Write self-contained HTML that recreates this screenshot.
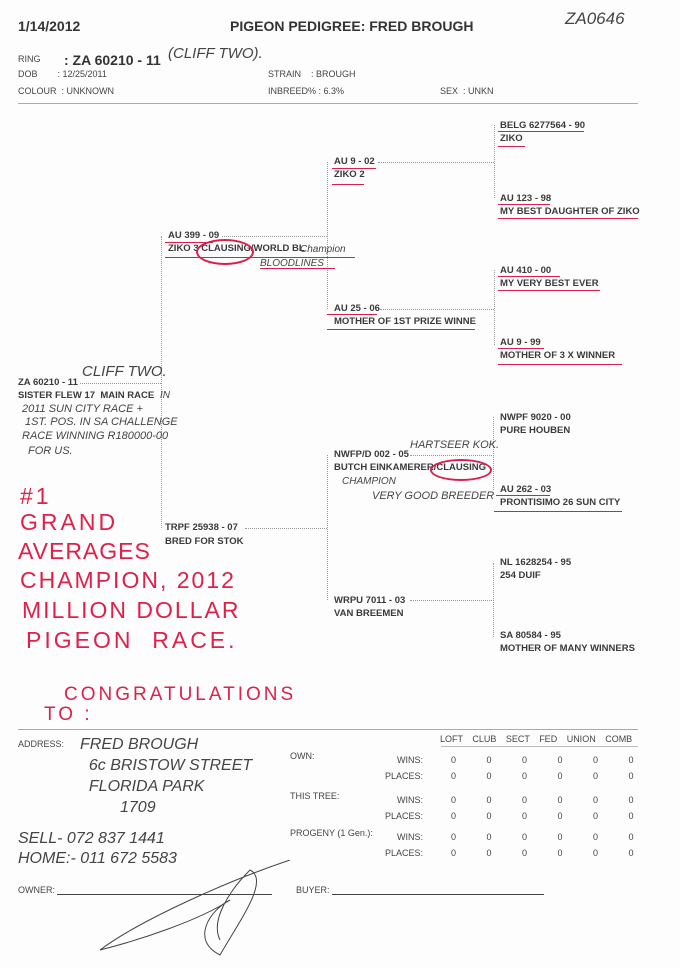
<!DOCTYPE html>
<html><head><meta charset="utf-8">
<style>
body{margin:0;background:#fff;}
#p{position:relative;width:680px;height:968px;overflow:hidden;background:#fdfdfd;font-family:"Liberation Sans",Arial,sans-serif;color:#333;}
.t{position:absolute;white-space:nowrap;line-height:1;}
.b{font-weight:bold;font-size:9.5px;color:#3a3a3a;}
.s{font-size:9px;color:#444;}
.h{font-family:"Liberation Sans",sans-serif;font-style:italic;color:#444;font-weight:normal;}
.r{color:#e0204a;font-size:23px;letter-spacing:3px;font-family:"Liberation Sans",sans-serif;}
.hl{position:absolute;height:0;border-top:1px dotted #999;}
.vl{position:absolute;width:0;border-left:1px dotted #999;}
.u{position:absolute;height:0;border-top:1.5px solid #d8204a;}
</style></head><body><div id="p">
<div class="t" style="left:18px;top:19px;font-size:14px;font-weight:bold;color:#333">1/14/2012</div>
<div class="t" style="left:230px;top:19px;font-size:14px;font-weight:bold;color:#333">PIGEON PEDIGREE: FRED BROUGH</div>
<div class="t h" style="left:565px;top:10px;font-size:17px">ZA0646</div>
<div class="t s" style="left:18px;top:55px">RING</div>
<div class="t" style="left:64px;top:53px;font-size:14px;font-weight:bold;color:#333">: ZA 60210 - 11</div>
<div class="t h" style="left:168px;top:46px;font-size:15px">(CLIFF TWO).</div>
<div class="t s" style="left:18px;top:70px">DOB &nbsp;&nbsp;&nbsp;&nbsp;&nbsp;&nbsp;&nbsp;: 12/25/2011</div>
<div class="t s" style="left:268px;top:70px">STRAIN &nbsp;&nbsp;&nbsp;: BROUGH</div>
<div class="t s" style="left:18px;top:87px">COLOUR &nbsp;: UNKNOWN</div>
<div class="t s" style="left:268px;top:87px">INBREED% : 6.3%</div>
<div class="t s" style="left:440px;top:87px">SEX &nbsp;: UNKN</div>
<div class="hl" style="left:18px;top:103px;width:620px;border-top:1px solid #aaa"></div>

<div class="vl" style="left:161px;top:236px;height:292px"></div>
<div class="hl" style="left:222px;top:236px;width:105px"></div>
<div class="hl" style="left:80px;top:383px;width:81px"></div>
<div class="hl" style="left:245px;top:528px;width:82px"></div>
<div class="vl" style="left:327px;top:162px;height:147px"></div>
<div class="vl" style="left:327px;top:455px;height:145px"></div>
<div class="hl" style="left:378px;top:162px;width:116px"></div>
<div class="hl" style="left:380px;top:309px;width:114px"></div>
<div class="hl" style="left:410px;top:455px;width:84px"></div>
<div class="hl" style="left:410px;top:600px;width:84px"></div>
<div class="vl" style="left:494px;top:125px;height:73px"></div>
<div class="vl" style="left:494px;top:270px;height:75px"></div>
<div class="vl" style="left:493px;top:417px;height:73px"></div>
<div class="vl" style="left:493px;top:563px;height:74px"></div>

<div class="t b" style="left:18px;top:378px">ZA 60210 - 11</div>
<div class="t b" style="left:18px;top:391px">SISTER FLEW 17 &nbsp;MAIN RACE</div>
<div class="t b" style="left:168px;top:231px">AU 399 - 09</div>
<div class="t b" style="left:168px;top:244px">ZIKO 3 CLAUSING/WORLD BL</div>
<div class="t b" style="left:165px;top:523px">TRPF 25938 - 07</div>
<div class="t b" style="left:165px;top:537px">BRED FOR STOK</div>
<div class="t b" style="left:334px;top:157px">AU 9 - 02</div>
<div class="t b" style="left:334px;top:170px">ZIKO 2</div>
<div class="t b" style="left:334px;top:304px">AU 25 - 06</div>
<div class="t b" style="left:334px;top:317px">MOTHER OF 1ST PRIZE WINNE</div>
<div class="t b" style="left:334px;top:450px">NWFP/D 002 - 05</div>
<div class="t b" style="left:334px;top:463px">BUTCH EINKAMERER/CLAUSING</div>
<div class="t b" style="left:334px;top:596px">WRPU 7011 - 03</div>
<div class="t b" style="left:334px;top:609px">VAN BREEMEN</div>
<div class="t b" style="left:500px;top:121px">BELG 6277564 - 90</div>
<div class="t b" style="left:500px;top:134px">ZIKO</div>
<div class="t b" style="left:500px;top:194px">AU 123 - 98</div>
<div class="t b" style="left:500px;top:207px">MY BEST DAUGHTER OF ZIKO</div>
<div class="t b" style="left:500px;top:266px">AU 410 - 00</div>
<div class="t b" style="left:500px;top:279px">MY VERY BEST EVER</div>
<div class="t b" style="left:500px;top:338px">AU 9 - 99</div>
<div class="t b" style="left:500px;top:351px">MOTHER OF 3 X WINNER</div>
<div class="t b" style="left:500px;top:413px">NWPF 9020 - 00</div>
<div class="t b" style="left:500px;top:426px">PURE HOUBEN</div>
<div class="t b" style="left:500px;top:485px">AU 262 - 03</div>
<div class="t b" style="left:500px;top:498px">PRONTISIMO 26 SUN CITY</div>
<div class="t b" style="left:500px;top:558px">NL 1628254 - 95</div>
<div class="t b" style="left:500px;top:571px">254 DUIF</div>
<div class="t b" style="left:500px;top:631px">SA 80584 - 95</div>
<div class="t b" style="left:500px;top:644px">MOTHER OF MANY WINNERS</div>

<div class="u" style="left:498px;top:131px;width:86px"></div>
<div class="u" style="left:498px;top:146px;width:27px"></div>
<div class="u" style="left:498px;top:204px;width:52px"></div>
<div class="u" style="left:498px;top:218px;width:140px"></div>
<div class="u" style="left:498px;top:276px;width:62px"></div>
<div class="u" style="left:498px;top:290px;width:102px"></div>
<div class="u" style="left:498px;top:348px;width:46px"></div>
<div class="u" style="left:498px;top:364px;width:124px"></div>
<div class="u" style="left:332px;top:168px;width:44px"></div>
<div class="u" style="left:332px;top:184px;width:32px"></div>
<div class="u" style="left:327px;top:314px;width:50px"></div>
<div class="u" style="left:327px;top:329px;width:148px"></div>
<div class="u" style="left:165px;top:242px;width:48px"></div>
<div class="u" style="left:165px;top:257px;width:190px"></div>
<div class="u" style="left:260px;top:268px;width:75px"></div>
<div class="u" style="left:496px;top:495px;width:54px"></div>
<div class="u" style="left:494px;top:511px;width:128px"></div>
<div style="position:absolute;left:196px;top:239px;width:54px;height:22px;border:2px solid #d8204a;border-radius:50%"></div>
<div style="position:absolute;left:430px;top:459px;width:58px;height:18px;border:2px solid #d8204a;border-radius:50%"></div>

<div class="t h" style="left:300px;top:245px;font-size:10px">Champion</div>
<div class="t h" style="left:260px;top:259px;font-size:10px">BLOODLINES</div>
<div class="t h" style="left:82px;top:364px;font-size:15px">CLIFF TWO.</div>
<div class="t h" style="left:160px;top:391px;font-size:10px">IN</div>
<div class="t h" style="left:22px;top:404px;font-size:11px">2011 SUN CITY RACE +</div>
<div class="t h" style="left:25px;top:417px;font-size:11px">1ST. POS. IN SA CHALLENGE</div>
<div class="t h" style="left:22px;top:431px;font-size:11px">RACE WINNING R180000-00</div>
<div class="t h" style="left:28px;top:446px;font-size:11px">FOR US.</div>
<div class="t h" style="left:410px;top:440px;font-size:11px">HARTSEER KOK.</div>
<div class="t h" style="left:342px;top:477px;font-size:10px">CHAMPION</div>
<div class="t h" style="left:372px;top:491px;font-size:11px">VERY GOOD BREEDER</div>

<div class="t r" style="left:20px;top:485px">#1</div>
<div class="t r" style="left:20px;top:511px">GRAND</div>
<div class="t r" style="left:18px;top:540px;letter-spacing:1px">AVERAGES</div>
<div class="t r" style="left:20px;top:569px;letter-spacing:2px">CHAMPION, 2012</div>
<div class="t r" style="left:22px;top:599px;letter-spacing:2px">MILLION DOLLAR</div>
<div class="t r" style="left:26px;top:629px">PIGEON &nbsp;RACE.</div>
<div class="t r" style="left:64px;top:685px;font-size:19px">CONGRATULATIONS</div>
<div class="t r" style="left:44px;top:705px;font-size:19px">TO :</div>

<div class="hl" style="left:18px;top:729px;width:620px;border-top:1px solid #aaa"></div>
<div class="t s" style="left:18px;top:740px">ADDRESS:</div>
<div class="t h" style="left:80px;top:734px;font-size:16px;line-height:21px">FRED BROUGH<br>&nbsp;&nbsp;6c BRISTOW STREET<br>&nbsp;&nbsp;FLORIDA PARK<br>&nbsp;&nbsp;&nbsp;&nbsp;&nbsp;&nbsp;&nbsp;&nbsp;&nbsp;1709</div>
<div class="t h" style="left:18px;top:829px;font-size:16px;line-height:20px">SELL- 072 837 1441<br>HOME:- 011 672 5583</div>
<div class="t s" style="left:440px;top:735px;word-spacing:7px">LOFT CLUB SECT FED UNION COMB</div>
<div class="hl" style="left:441px;top:746px;width:197px;border-top:1px solid #bbb"></div>
<div class="t s" style="left:290px;top:752px">OWN:</div>
<div class="t s" style="left:290px;top:792px">THIS TREE:</div>
<div class="t s" style="left:290px;top:829px">PROGENY (1 Gen.):</div>
<div class="t s" style="left:385px;top:752px;line-height:16px;text-align:right;width:38px">WINS:<br>PLACES:</div>
<div class="t s" style="left:385px;top:792px;line-height:16px;text-align:right;width:38px">WINS:<br>PLACES:</div>
<div class="t s" style="left:385px;top:829px;line-height:16px;text-align:right;width:38px">WINS:<br>PLACES:</div>
<div class="t s" style="left:451px;top:752px;line-height:16px;word-spacing:28px">0 0 0 0 0 0<br>0 0 0 0 0 0</div>
<div class="t s" style="left:451px;top:792px;line-height:16px;word-spacing:28px">0 0 0 0 0 0<br>0 0 0 0 0 0</div>
<div class="t s" style="left:451px;top:829px;line-height:16px;word-spacing:28px">0 0 0 0 0 0<br>0 0 0 0 0 0</div>
<div class="t s" style="left:18px;top:886px">OWNER:</div>
<div class="hl" style="left:57px;top:894px;width:215px;border-top:1px solid #444"></div>
<div class="t s" style="left:296px;top:886px">BUYER:</div>
<div class="hl" style="left:332px;top:894px;width:212px;border-top:1px solid #444"></div>
<svg style="position:absolute;left:80px;top:860px" width="230" height="100"><path d="M210 0 C150 20 60 60 20 90 C60 80 120 60 150 40 C130 50 110 80 140 95 C160 60 190 20 170 10 C150 30 130 60 140 80" fill="none" stroke="#444" stroke-width="1"/></svg>
</div></body></html>
